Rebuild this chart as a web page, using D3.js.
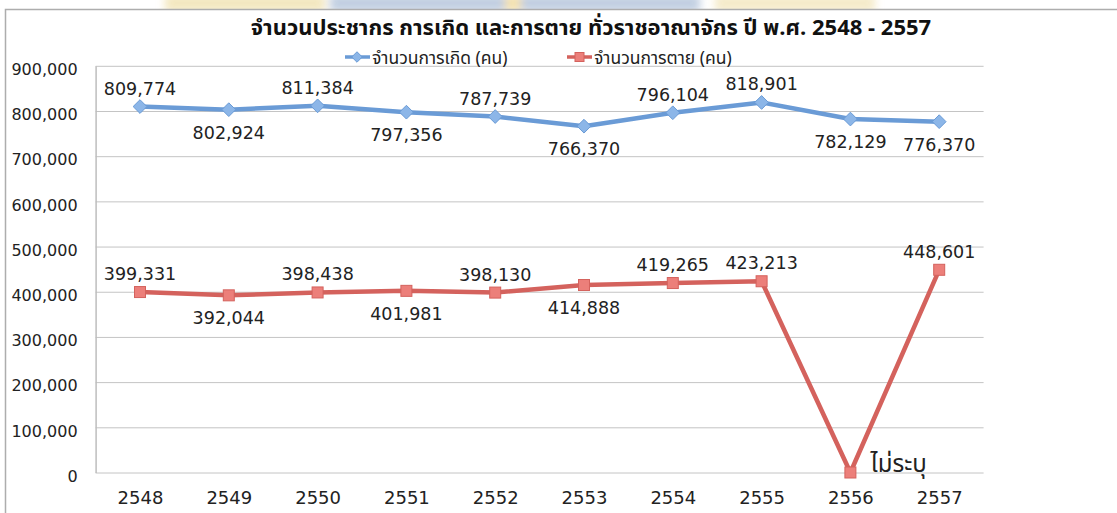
<!DOCTYPE html>
<html>
<head>
<meta charset="utf-8">
<script src="https://cdn.jsdelivr.net/npm/d3@7"></script>
<style>
  body { margin: 0; background: #fff; }
  svg { display: block; }
</style>
</head>
<body>
<script>
// data
var years = ["2548", "2549", "2550", "2551", "2552", "2553", "2554", "2555", "2556", "2557"];
var births = [809774, 802924, 811384, 797356, 787739, 766370, 796104, 818901, 782129, 776370];
var deaths = [399331, 392044, 398438, 401981, 398130, 414888, 419265, 423213, 0, 448601];
var deathText = ["399,331", "392,044", "398,438", "401,981", "398,130", "414,888", "419,265", "423,213", "ไม่ระบุ", "448,601"];
var yTicks = [0, 100000, 200000, 300000, 400000, 500000, 600000, 700000, 800000, 900000];
var seriesNames = ["จำนวนการเกิด (คน)", "จำนวนการตาย (คน)"];
var title = "จำนวนประชากร การเกิด และการตาย ทั่วราชอาณาจักร ปี พ.ศ. 2548 - 2557";

// where each data label sits (t = above, b = below, r = right)
var birthPos = ["t", "b", "t", "b", "t", "b", "t", "t", "b", "b"];
var deathPos = ["t", "b", "t", "b", "t", "b", "t", "t", "r", "t"];

var W = 1117, H = 513;
var numFont = "'DejaVu Sans', sans-serif";
var thaiFont = "'Noto Sans Thai', 'Noto Sans Thai UI', Loma, Garuda, 'Tlwg Typo', 'Noto Sans', 'DejaVu Sans', sans-serif";
var blue = "#6a9bd6", blueM = "#8cb6e8";
var red = "#d4625d", redM = "#ec7f7a";

var svg = d3.select("body").append("svg")
    .attr("width", W)
    .attr("height", H);

// blurry watermark strip above the chart frame
var defs = svg.append("defs");
defs.append("filter").attr("id", "blur")
    .append("feGaussianBlur").attr("stdDeviation", 4);
var wm = svg.append("g").attr("filter", "url(#blur)").style("opacity", 0.8);
wm.append("rect").attr("x", 165).attr("y", -6).attr("width", 160).attr("height", 18).style("fill", "#f1e2b0");
wm.append("rect").attr("x", 330).attr("y", -6).attr("width", 370).attr("height", 18).style("fill", "#b2c3da");
wm.append("rect").attr("x", 505).attr("y", -6).attr("width", 16).attr("height", 18).style("fill", "#f3dc9c");
wm.append("rect").attr("x", 715).attr("y", -6).attr("width", 160).attr("height", 18).style("fill", "#f3e6bd");

// chart frame
svg.append("rect")
    .attr("x", 5.5).attr("y", 9.5)
    .attr("width", W + 20).attr("height", H + 20)
    .style("fill", "#fff")
    .style("stroke", "#adadad")
    .style("stroke-width", 1.5);

var x = d3.scalePoint().domain(years).range([95.6, 983.6]).padding(0.5);
var y = d3.scaleLinear().domain([0, 900000]).range([472.5, 65.8]);

// gridlines
var grid = svg.append("g")
    .attr("transform", "translate(95.6,0)")
    .call(d3.axisLeft(y).tickValues(yTicks).tickSize(-888).tickFormat(""));
grid.select(".domain").remove();
grid.selectAll("line").style("stroke", "#c4c4c4").style("stroke-width", 1);

// y axis labels
var yAxis = svg.append("g")
    .attr("transform", "translate(95.6,0)")
    .call(d3.axisLeft(y).tickValues(yTicks).tickSize(0).tickPadding(18).tickFormat(d3.format(",")));
yAxis.select(".domain").style("stroke", "#bdbdbd").style("stroke-width", 1.5);
yAxis.selectAll("text")
    .attr("dy", "0.55em")
    .style("font-family", numFont)
    .style("font-size", "16px")
    .style("fill", "#222");

// x axis labels
var xAxis = svg.append("g")
    .attr("transform", "translate(0,472.5)")
    .call(d3.axisBottom(x).tickSize(0).tickPadding(19));
xAxis.select(".domain").remove();
xAxis.selectAll("text")
    .style("font-family", numFont)
    .style("font-size", "18px")
    .style("fill", "#222");

// lines
var line = function (vals) {
  return d3.line()
    .x(function (d, i) { return x(years[i]); })
    .y(function (d) { return y(d); })(vals);
};

svg.append("path").attr("d", line(births))
    .style("fill", "none").style("stroke", blue).style("stroke-width", 4.5)
    .style("stroke-linejoin", "round");
svg.append("path").attr("d", line(deaths))
    .style("fill", "none").style("stroke", red).style("stroke-width", 4.5)
    .style("stroke-linejoin", "round");

// markers
svg.selectAll(".bm").data(births).enter().append("path")
    .attr("class", "bm")
    .attr("transform", function (d, i) { return "translate(" + x(years[i]) + "," + y(d) + ")"; })
    .attr("d", d3.symbol(d3.symbolDiamond2, 120))
    .style("fill", blueM).style("stroke", blue).style("stroke-width", 1);

svg.selectAll(".dm").data(deaths).enter().append("rect")
    .attr("class", "dm")
    .attr("x", function (d, i) { return x(years[i]) - 5.5; })
    .attr("y", function (d) { return y(d) - 5.5; })
    .attr("width", 11).attr("height", 11)
    .style("fill", redM).style("stroke", red).style("stroke-width", 1);

// data labels
function labels(vals, pos, texts) {
  svg.append("g").selectAll("text").data(vals).enter().append("text")
      .attr("x", function (d, i) { return pos[i] == "r" ? x(years[i]) + 20 : x(years[i]); })
      .attr("y", function (d, i) {
        if (pos[i] == "t") return y(d) - 12;
        if (pos[i] == "b") return y(d) + 29;
        return y(d) - 1;
      })
      .attr("text-anchor", function (d, i) { return pos[i] == "r" ? "start" : "middle"; })
      .style("font-family", function (d, i) { return pos[i] == "r" ? thaiFont : numFont; })
      .style("font-size", function (d, i) { return pos[i] == "r" ? "24px" : "17.5px"; })
      .style("fill", "#222")
      .text(function (d, i) { return texts ? texts[i] : d3.format(",")(d); });
}
labels(births, birthPos);
labels(deaths, deathPos, deathText);

// title
svg.append("text")
    .attr("x", 591).attr("y", 35)
    .attr("text-anchor", "middle")
    .style("font-family", thaiFont)
    .style("font-weight", "bold")
    .style("font-size", "22px")
    .style("fill", "#111")
    .text(title);

// legend
var legX = [345, 567];
var leg = svg.append("g");
seriesNames.forEach(function (name, i) {
  var g = leg.append("g").attr("transform", "translate(" + legX[i] + ",57)");
  g.append("line").attr("x1", 0).attr("x2", 25)
      .style("stroke", i == 0 ? blue : red).style("stroke-width", 3.5);
  if (i == 0) {
    g.append("path").attr("transform", "translate(12,0)")
        .attr("d", d3.symbol(d3.symbolDiamond2, 70))
        .style("fill", blueM).style("stroke", blue);
  } else {
    g.append("rect").attr("x", 8).attr("y", -4.5).attr("width", 9).attr("height", 9)
        .style("fill", redM).style("stroke", red);
  }
  g.append("text").attr("x", 27).attr("y", 6.5)
      .style("font-family", thaiFont)
      .style("font-size", "17.5px")
      .style("fill", "#222")
      .text(name);
});
</script>
</body>
</html>
